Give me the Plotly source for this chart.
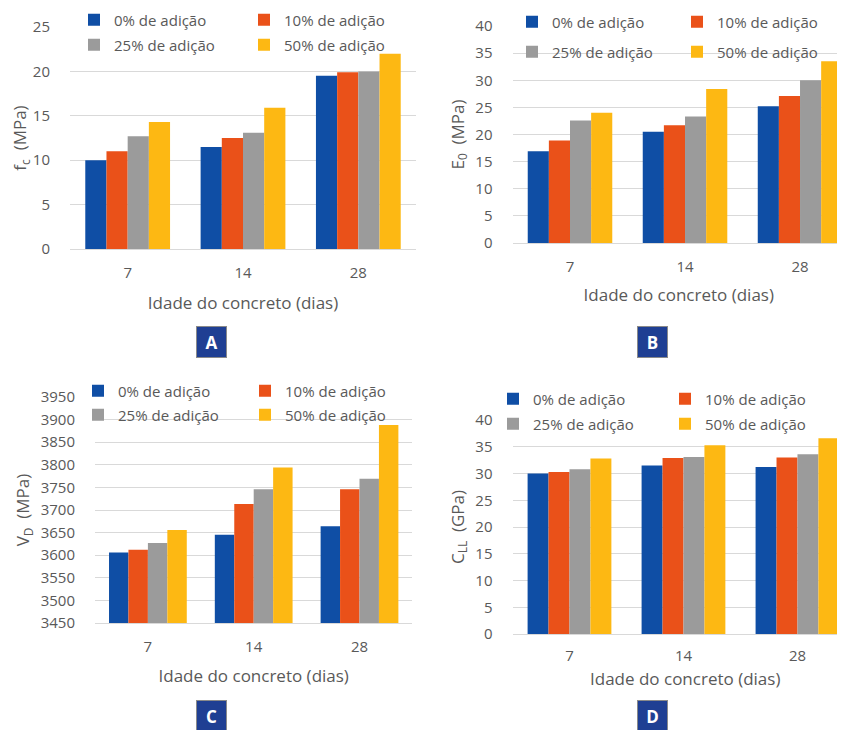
import plotly.graph_objects as go

# The page adds an 8 px body margin, so the figure is drawn 8 px in from the
# top-left corner of the 845x730 window; size it to fill the rest exactly.
OFF = 8
W, H = 845 - OFF, 730 - OFF

# ---------------- data ----------------
ages = ["7", "14", "28"]
series_names = ["0% de adição", "10% de adição", "25% de adição", "50% de adição"]
colors = ["#0F4EA5", "#EA5119", "#9B9B9B", "#FDB813"]

fc_values = [  # panel A, f_c (MPa)
    [10.0, 11.5, 19.5],
    [11.0, 12.5, 19.9],
    [12.7, 13.1, 20.0],
    [14.3, 15.9, 22.0],
]
e0_values = [  # panel B, E_0 (MPa)
    [16.9, 20.5, 25.2],
    [18.9, 21.7, 27.1],
    [22.6, 23.3, 30.0],
    [24.0, 28.4, 33.5],
]
vd_values = [  # panel C, V_D (MPa)
    [3606, 3645, 3664],
    [3612, 3713, 3746],
    [3627, 3746, 3769],
    [3656, 3794, 3888],
]
cll_values = [  # panel D, C_LL (GPa)
    [30.0, 31.5, 31.2],
    [30.3, 32.9, 33.0],
    [30.8, 33.1, 33.6],
    [32.8, 35.3, 36.6],
]

y_titles = ["f<sub>c</sub>\u00a0 (MPa)", "E<sub>0</sub>\u00a0 (MPa)",
            "V<sub>D</sub>\u00a0 (MPa)", "C<sub>LL</sub>\u00a0 (GPa)"]
x_title = "Idade do concreto (dias)"
panel_letters = ["A", "B", "C", "D"]

# ---------------- layout geometry (window pixels) ----------------
FONT = "Open Sans"
TXT = "#595959"
GRID = "#D9D9D9"


def fx(x):
    return (x - OFF) / W


def fy(y):
    return 1 - (y - OFF) / H


panels = [
    dict(vals=fc_values, x0=70, x1=416, xr=[-0.5, 2.5], yb=249, yt=27, yr=[0, 25], dt=5,
         leg_x=113, leg_rows=[20, 45], leg_sp=171, letter=(211.5, 342), xts=16, xls=10),
    dict(vals=e0_values, x0=512.5, x1=845, xr=[-0.5, 2.391], yb=243, yt=26, yr=[0, 40], dt=5,
         leg_x=551, leg_rows=[22, 52], leg_sp=166, letter=(652, 342), xts=14, xls=10),
    dict(vals=vd_values, x0=95, x1=412.4, xr=[-0.5, 2.5], yb=623, yt=397, yr=[3450, 3950], dt=50,
         leg_x=117, leg_rows=[391, 415], leg_sp=168, letter=(211, 716), xts=15, xls=10),
    dict(vals=cll_values, x0=512.5, x1=845, xr=[-0.5, 2.417], yb=634, yt=420, yr=[0, 40], dt=5,
         leg_x=532, leg_rows=[399, 424], leg_sp=173, letter=(652, 716), xts=None, xls=8),
]

fig = go.Figure()
layout = dict(
    width=W, height=H, margin=dict(l=0, r=0, t=0, b=0, autoexpand=False),
    paper_bgcolor="white", plot_bgcolor="white",
    barmode="group", bargap=0.265, bargroupgap=0,
    font=dict(family=FONT, color=TXT, size=15),
    annotations=[],
)

leg_idx = 0
for p_i, p in enumerate(panels):
    ax = "" if p_i == 0 else str(p_i + 1)
    legends = []
    for r in range(2):
        leg_idx += 1
        lname = "legend" if leg_idx == 1 else f"legend{leg_idx}"
        legends.append(lname)
        layout[lname] = dict(
            orientation="h", x=fx(p["leg_x"] - 39), xanchor="left",
            y=fy(p["leg_rows"][r]), yanchor="middle",
            bgcolor="rgba(0,0,0,0)", font=dict(size=15, color=TXT, family=FONT),
            itemwidth=30, entrywidth=p["leg_sp"] - 46, entrywidthmode="pixels",
            traceorder="normal", itemclick=False, itemdoubleclick=False,
        )
    for s_i, name in enumerate(series_names):
        fig.add_trace(go.Bar(
            x=ages, y=p["vals"][s_i], name=name,
            marker=dict(color=colors[s_i], line=dict(width=0)),
            xaxis="x" + ax, yaxis="y" + ax,
            legend=legends[s_i // 2],
        ))
    xaxis = dict(
        domain=[fx(p["x0"]), min(fx(p["x1"]), 1)], anchor="y" + ax,
        type="category", range=p["xr"], showgrid=False,
        showline=True, linecolor=GRID, linewidth=1, ticks="",
        tickfont=dict(size=15, color=TXT), ticklabelstandoff=p["xls"],
        automargin=True, fixedrange=True,
    )
    if p["xts"] is not None:
        xaxis["title"] = dict(text=x_title, font=dict(size=17, color=TXT), standoff=p["xts"])
    else:
        # this panel's title sits tight under its tick labels
        layout["annotations"].append(dict(
            x=fx(685), y=fy(678), xref="paper", yref="paper", text=x_title,
            showarrow=False, font=dict(size=17, color=TXT, family=FONT),
            xanchor="center", yanchor="middle",
        ))
    layout["xaxis" + ax] = xaxis
    layout["yaxis" + ax] = dict(
        domain=[fy(p["yb"]), fy(p["yt"])], anchor="x" + ax,
        range=p["yr"], dtick=p["dt"], tick0=p["yr"][0],
        showgrid=True, gridcolor=GRID, gridwidth=1, zeroline=False,
        showline=False, ticks="", tickfont=dict(size=15, color=TXT),
        ticklabelstandoff=19, automargin=True,
        title=dict(text=y_titles[p_i], font=dict(size=17, color=TXT), standoff=6),
        fixedrange=True,
    )
    lx, ly = p["letter"]
    layout["annotations"].append(dict(
        x=fx(lx), y=fy(ly), xref="paper", yref="paper",
        text="<b>" + panel_letters[p_i] + "</b>", showarrow=False,
        font=dict(size=17, color="white", family=FONT),
        bgcolor="#1F3F93", bordercolor="#8A8A8A", borderwidth=1,
        width=27, height=28, xanchor="center", yanchor="middle",
    ))

fig.update_layout(**layout)
fig.write_html("out.html")
